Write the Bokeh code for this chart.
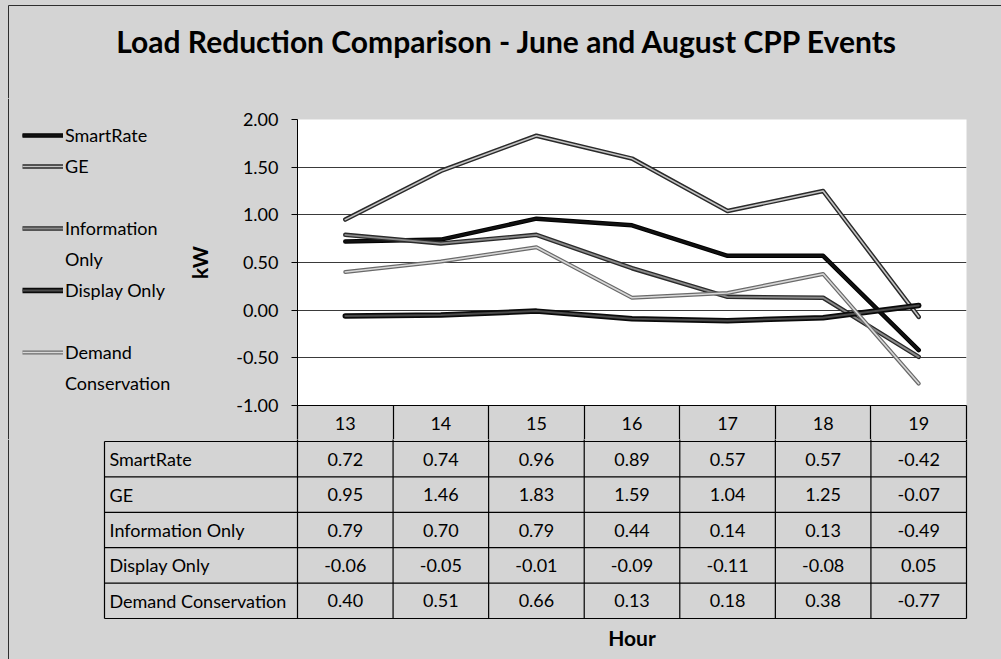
from bokeh.plotting import figure
from bokeh.models import (Range1d, FixedTicker, NumeralTickFormatter, Legend, LegendItem, Span)
from bokeh.layouts import column, row
from bokeh.core.properties import value
from bokeh.embed import file_html
from bokeh.resources import INLINE

# ---------------- data ----------------
hours = [13, 14, 15, 16, 17, 18, 19]
series_names = ["SmartRate", "GE", "Information Only", "Display Only", "Demand Conservation"]
smartrate = [0.72, 0.74, 0.96, 0.89, 0.57, 0.57, -0.42]
ge = [0.95, 1.46, 1.83, 1.59, 1.04, 1.25, -0.07]
information_only = [0.79, 0.70, 0.79, 0.44, 0.14, 0.13, -0.49]
display_only = [-0.06, -0.05, -0.01, -0.09, -0.11, -0.08, 0.05]
demand_conservation = [0.40, 0.51, 0.66, 0.13, 0.18, 0.38, -0.77]
y_ticks = [-1.0, -0.5, 0.0, 0.5, 1.0, 1.5, 2.0]
title_text = "Load Reduction Comparison - June and August CPP Events"
y_label = "kW"
x_label = "Hour"

all_series = [smartrate, ge, information_only, display_only, demand_conservation]

# ---------------- styles ----------------
BG = "#d4d4d4"
EDGE = "#2e2e2e"
FONT = "Lato"
# (outer color, outer width, inner color, inner width)
styles = [
    ("#000000", 4.5, "#111111", 2.5),
    ("#2a2a2a", 4.5, "#c4c4c4", 1.6),
    ("#2a2a2a", 4.5, "#8a8a8a", 1.8),
    ("#0a0a0a", 5.5, "#4a4a4a", 2.0),
    ("#6a6a6a", 4.0, "#d8d8d8", 1.6),
]

W = 1001
UNIT = 669 / 7.0     # pixels per hour column
ROW = 35.4           # pixels per table row
EDGE_X = 8           # outer chart border (left)
EDGE_Y = 5           # outer chart border (top)


def bare(fig):
    fig.axis.visible = False
    fig.grid.grid_line_color = None
    fig.outline_line_color = None
    fig.background_fill_color = BG
    fig.border_fill_color = BG
    return fig


# ---------------- title strip ----------------
TH = 98
pT = bare(figure(width=W, height=TH, output_backend="svg", toolbar_location=None,
                 x_range=Range1d(0, W), y_range=Range1d(0, TH),
                 min_border_left=0, min_border_right=0, min_border_top=0, min_border_bottom=0,
                 frame_align=False))
pT.text([507], [TH - 40], text=[title_text], text_align="center", text_baseline="middle",
        text_font=value(FONT), text_font_size="30px", text_font_style="bold", text_color="black")
# outer chart border (top and left edges)
pT.line([EDGE_X, EDGE_X, W], [0, TH - EDGE_Y, TH - EDGE_Y], line_color=EDGE, line_width=1)

# ---------------- main chart ----------------
AH = 341
pA = figure(width=W - 180, height=AH, output_backend="svg", toolbar_location=None,
            x_range=Range1d(12.5, 19.5), y_range=Range1d(-1, 2),
            min_border_left=117, min_border_right=35, min_border_top=21,
            min_border_bottom=34, frame_align=False)
pA.background_fill_color = "white"
pA.border_fill_color = BG
pA.outline_line_color = None
pA.xgrid.grid_line_color = None
pA.ygrid.ticker = FixedTicker(ticks=y_ticks)
pA.ygrid.grid_line_color = "#3a3a3a"
pA.ygrid.grid_line_width = 1

ya = pA.yaxis[0]
ya.ticker = FixedTicker(ticks=y_ticks)
ya.formatter = NumeralTickFormatter(format="0.00")
ya.major_tick_out = 6
ya.major_tick_in = 0
ya.minor_tick_out = 0
ya.axis_line_color = "black"
ya.major_label_standoff = 13
ya.major_label_text_font = FONT
ya.major_label_text_font_size = "18px"
ya.major_label_text_color = "black"
ya.axis_label = y_label
ya.axis_label_text_font = FONT
ya.axis_label_text_font_size = "21px"
ya.axis_label_text_font_style = "bold"
ya.axis_label_text_color = "black"
ya.axis_label_standoff = 21

edges = [h - 0.5 for h in hours] + [hours[-1] + 0.5]
xa = pA.xaxis[0]
xa.ticker = FixedTicker(ticks=hours, minor_ticks=edges)
xa.major_tick_out = 0
xa.major_tick_in = 0
xa.minor_tick_in = 0
xa.minor_tick_out = 34
xa.minor_tick_line_color = "black"
xa.minor_tick_line_width = 1.2
xa.axis_line_color = "black"
xa.major_label_standoff = -23
xa.major_label_text_font = FONT
xa.major_label_text_font_size = "18px"
xa.major_label_text_color = "black"

for vals, (oc, ow, ic, iw) in zip(all_series, styles):
    pA.line(hours, vals, line_color=oc, line_width=ow, line_join="round", line_cap="round")
    pA.line(hours, vals, line_color=ic, line_width=iw, line_join="round", line_cap="round")

# ---------------- legend panel ----------------
pL = bare(figure(width=180, height=AH, output_backend="svg", toolbar_location=None,
                 x_range=Range1d(0, 1), y_range=Range1d(0, 1),
                 min_border_left=0, min_border_right=0, min_border_top=0, min_border_bottom=0,
                 frame_align=False))
lr = []
for vals, (oc, ow, ic, iw) in zip(all_series, styles):
    # same series drawn far outside this panel's ranges: only their legend glyphs show
    a = pL.line(hours, vals, line_color=oc, line_width=ow)
    b = pL.line(hours, vals, line_color=ic, line_width=iw)
    lr.append([a, b])
blank = pL.line(hours, smartrate, line_alpha=0)
items = [
    LegendItem(label=series_names[0], renderers=lr[0]),
    LegendItem(label=series_names[1], renderers=lr[1]),
    LegendItem(label=" ", renderers=[blank]),
    LegendItem(label="Information", renderers=lr[2]),
    LegendItem(label="Only", renderers=[blank]),
    LegendItem(label=series_names[3], renderers=lr[3]),
    LegendItem(label="  ", renderers=[blank]),
    LegendItem(label="Demand", renderers=lr[4]),
    LegendItem(label="Conservation", renderers=[blank]),
]
leg = Legend(items=items, location=(22, 41), glyph_width=41, glyph_height=20,
             label_height=31, spacing=0, padding=0, margin=0, label_standoff=2,
             label_text_font=FONT, label_text_font_size="18px", label_text_color="black",
             border_line_alpha=0, background_fill_alpha=0)
pL.add_layout(leg, "center")
pL.add_layout(Span(location=EDGE_X / 180, dimension="height", line_color=EDGE, line_width=1))

# ---------------- data table ----------------
BH = 659 - TH - AH
x0 = 12.5 - 193 / UNIT         # left edge of the row-label column
n = len(series_names)
pB = bare(figure(width=W, height=BH, output_backend="svg", toolbar_location=None,
                 x_range=Range1d(12.5 - 297 / UNIT, 19.5 + (W - 966) / UNIT),
                 y_range=Range1d(-41 / ROW, n + 2 / ROW),
                 min_border_left=0, min_border_right=0, min_border_top=0, min_border_bottom=0,
                 frame_align=False))
pB.add_layout(Span(location=12.5 - (297 - EDGE_X) / UNIT, dimension="height",
                   line_color=EDGE, line_width=1))

row_y = [n - 1 - i + 0.5 for i in range(n)]
hy = list(range(n + 1))
pB.segment([x0] * (n + 1), hy, [edges[-1]] * (n + 1), hy, line_color="black", line_width=1.2)
vx = [x0] + edges
pB.segment(vx, [0] * len(vx), vx, [n] * len(vx), line_color="black", line_width=1.2)
pB.segment(edges, [n] * len(edges), edges, [n + 1] * len(edges), line_color="black", line_width=1.2)

cx, cy, ct = [], [], []
for vals, yy in zip(all_series, row_y):
    for h, v in zip(hours, vals):
        cx.append(h)
        cy.append(yy)
        ct.append(f"{v:.2f}")
pB.text(cx, cy, text=ct, text_align="center", text_baseline="middle",
        text_font=value(FONT), text_font_size="18px", text_color="black")
pB.text([x0] * n, row_y, text=series_names, text_align="left", text_baseline="middle",
        x_offset=5, text_font=value(FONT), text_font_size="18px", text_color="black")
pB.text([(hours[0] + hours[-1]) / 2], [-0.54], text=[x_label], text_align="center",
        text_baseline="middle", text_font=value(FONT), text_font_size="21px",
        text_font_style="bold", text_color="black")

layout = column(pT, row(pL, pA, spacing=0), pB, spacing=0,
                styles={"background-color": BG})
open("out.html", "w").write(file_html(layout, INLINE))
